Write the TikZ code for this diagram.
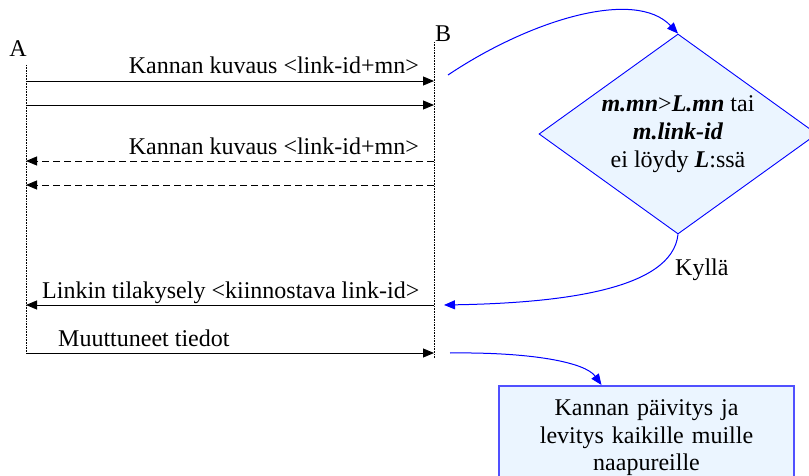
\documentclass[tikz,border=0pt]{standalone}
\usepackage{fontspec}
\setmainfont{Liberation Serif}
\usetikzlibrary{arrows.meta,shapes.geometric}
\definecolor{paleblue}{RGB}{235,245,255}
\definecolor{boxblue}{RGB}{80,80,255}

\begin{document}
\begin{tikzpicture}[x=1pt,y=-1pt,
    font=\fontsize{24}{28}\selectfont,
    lifeline/.style={densely dotted,line width=0.6pt},
    msg/.style={line width=0.9pt,-{Triangle[length=11pt,width=9pt]}},
    reply/.style={msg,dash pattern=on 7pt off 4pt},
    flow/.style={blue,line width=1pt,-{Triangle[length=11pt,width=9pt]}},
    lbl/.style={inner sep=0pt}]
    \useasboundingbox (0,0) rectangle (809,476);
    \clip (0,0) rectangle (809,476);
    % lifelines
    \node[lbl,anchor=base] (A) at (18,57) {A};
    \node[lbl,anchor=base west] (B) at (435,42) {B};
    \coordinate (Atop) at (26,65);
    \coordinate (Abot) at (26,352);
    \coordinate (Btop) at (434,42);
    \coordinate (Bbot) at (434,358);
    \draw[lifeline] (Atop)--(Abot);
    \draw[lifeline] (Btop)--(Bbot);
    % messages
    \foreach \n/\y in {1/81,2/105,3/161,4/185,5/305,6/353}{
        \coordinate (a\n) at (26,\y);
        \coordinate (b\n) at (434,\y);
    }
    \draw[msg] (a1)--(b1);
    \draw[msg] (a2)--(b2);
    \draw[reply] (b3)--(a3);
    \draw[reply] (b4)--(a4);
    \draw[msg] (b5)--(a5);
    \draw[msg] (a6)--(b6);
    \node[lbl,anchor=base east] (m1) at (419,74) {Kannan kuvaus <link-id+mn>};
    \node[lbl,anchor=base east] (m3) at (419,155) {Kannan kuvaus <link-id+mn>};
    \node[lbl,anchor=base west] (m5) at (42,298) {Linkin tilakysely <kiinnostava link-id>};
    \node[lbl,anchor=base west] (m6) at (58,346) {Muuttuneet tiedot};
    % decision and update
    \node[diamond,draw=blue,fill=paleblue,line width=0.9pt,minimum width=278pt,
          minimum height=200pt,aspect=1.39,inner sep=0pt,align=center] (test) at (678,134)
          {\textbf{\textit{m.mn}}>\textbf{\textit{L.mn}} tai\\ \textbf{\textit{m.link-id}}\\ ei löydy \textbf{\textit{L}}:ssä};
    \node[draw=boxblue,line width=1.5pt,fill=paleblue,anchor=north,text width=270pt,
          minimum width=295pt,align=center,inner ysep=14pt,
          font=\fontsize{24}{27.5}\selectfont] (update) at (646.5,385)
          {Kannan päivitys ja\\ levitys kaikille muille\\ naapureille};
    \coordinate (s1) at (448,75);
    \coordinate (e5) at (444,305);
    \coordinate (s6) at (450,353);
    \draw[flow] (s1) .. controls (530,20) and (635,-12) .. (test.north);
    \draw[flow] (test.south) .. controls (672,290) and (560,303) .. (e5);
    \node[lbl,anchor=base west] (yes) at (675,275) {Kyllä};
    \draw[flow] (s6) .. controls (530,352) and (585,362) .. ([xshift=-45pt]update.north);
\end{tikzpicture}
\end{document}
